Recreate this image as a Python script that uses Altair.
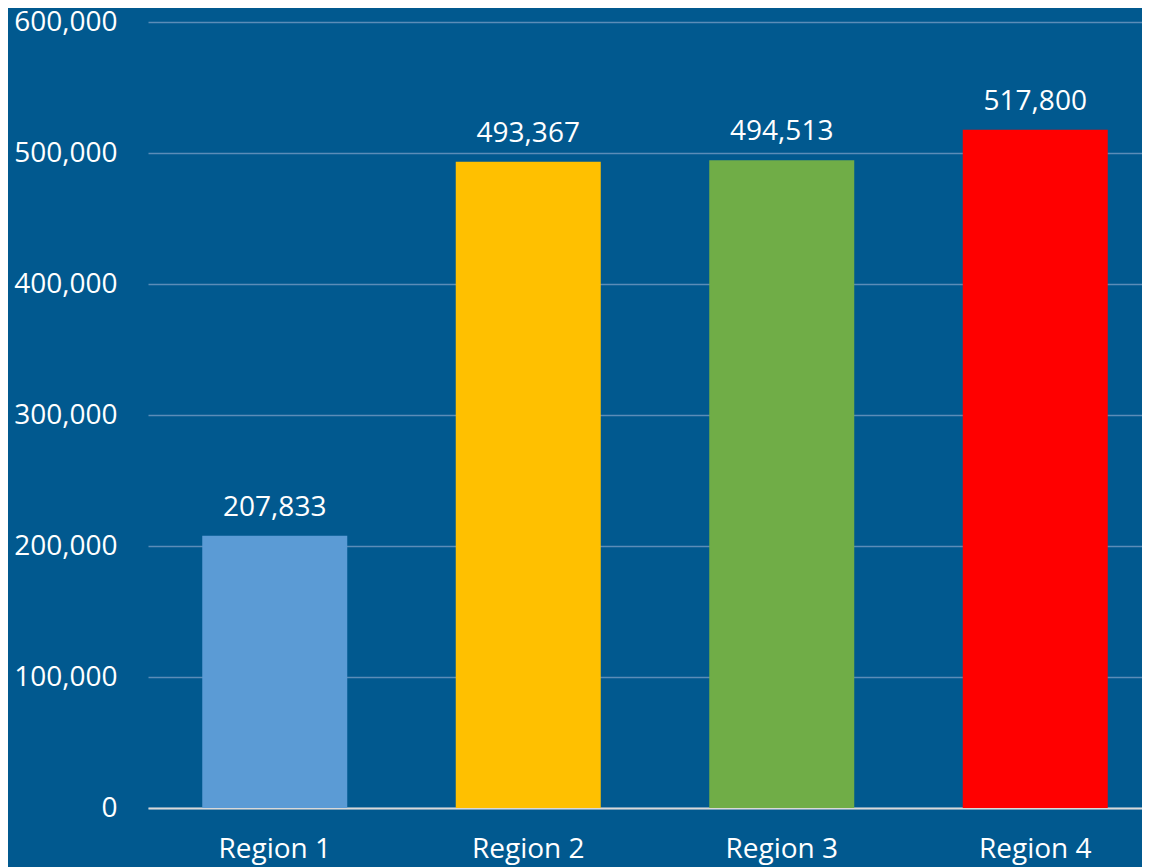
import altair as alt
import pandas as pd

regions = ["Region 1", "Region 2", "Region 3", "Region 4"]
values = [207833, 493367, 494513, 517800]
colors = ["#5B9BD5", "#FFC000", "#70AD47", "#FF0000"]
y_ticks = [0, 100000, 200000, 300000, 400000, 500000, 600000]

df = pd.DataFrame({"region": regions, "value": values, "color": colors})

FONT = "Open Sans"
BG = "#01598F"

x_enc = alt.X(
    "region:N",
    sort=regions,
    title=None,
    scale=alt.Scale(range=[0, 1014], paddingInner=0.428, paddingOuter=0.214),
    axis=alt.Axis(
        labelAngle=0,
        labelFont=FONT,
        labelFontSize=28,
        labelColor="white",
        labelPadding=27,
        ticks=False,
        domainColor="#D9D9D9",
        domainWidth=2,
        grid=False,
    ),
)

y_enc = alt.Y(
    "value:Q",
    title=None,
    scale=alt.Scale(domain=[0, 600000], nice=False),
    axis=alt.Axis(
        values=y_ticks,
        labelExpr="format(datum.value, ',')",
        labelFont=FONT,
        labelFontSize=28,
        labelColor="white",
        labelPadding=31,
        labelOverlap=False,
        labelFlush=False,
        ticks=False,
        domain=False,
        grid=True,
        gridColor="#5B8DB8",
        gridWidth=1.5,
    ),
)

bars = alt.Chart(df).mark_bar().encode(
    x=x_enc,
    y=y_enc,
    color=alt.Color("color:N", scale=None, legend=None),
)

labels = alt.Chart(df).mark_text(
    font=FONT, fontSize=28, color="white", baseline="alphabetic", dy=-20
).encode(
    x=x_enc,
    y=y_enc,
    text=alt.Text("value:Q", format=","),
)

chart = (
    alt.layer(bars, labels)
    .properties(
        width=994,
        height=786,
        background=BG,
        padding={"left": 140, "top": 14, "right": 0, "bottom": 59},
        autosize=alt.AutoSizeParams(type="none"),
    )
    .configure_view(stroke=None)
)

chart.save("out.html", embed_options={"renderer": "svg", "actions": False})
